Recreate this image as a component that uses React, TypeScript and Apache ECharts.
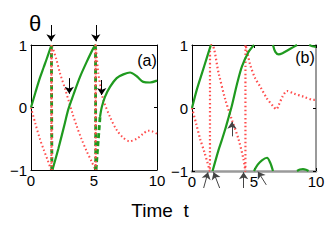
import React, { useEffect, useRef } from "react";
import * as echarts from "echarts";

// ---- data ----
const xTicks = [0, 5, 10];
const yTicks = [-1, 0, 1];

// Panel (a)
const aGreenSegments = [
  [[0, 0], [0.35, 0.24], [0.7, 0.47], [1.0, 0.64], [1.25, 0.78], [1.62, 1]],
  [[1.7, -1], [2.17, -0.66], [2.7, -0.24], [2.96, -0.03], [3.36, 0.2], [3.89, 0.49], [4.42, 0.73], [4.95, 0.95], [5.12, 1]],
  [[5.48, -0.15], [5.61, 0.0], [5.87, 0.17], [6.27, 0.33], [6.8, 0.47], [7.33, 0.53], [7.86, 0.56], [8.39, 0.5], [8.91, 0.41], [9.44, 0.4], [10, 0.43]],
];
const aGreenJumps = [
  [[1.62, 1], [1.66, -1]],
  [[5.12, 1], [5.14, -1]],
  [[5.16, -1], [5.48, -0.15]],
];
const aRed = [
  [0, 0], [0.35, -0.26], [0.7, -0.5], [1.0, -0.67], [1.3, -0.83], [1.6, -1], [1.64, 1],
  [2.0, 0.78], [2.3, 0.55], [2.7, 0.3], [3.0, 0.1], [3.3, -0.1], [3.63, -0.3], [4.0, -0.5], [4.42, -0.7], [4.8, -0.86], [5.12, -1],
  [5.14, 1], [5.34, 0.55], [5.55, 0.3], [5.74, 0.12], [6.27, -0.15], [6.8, -0.36], [7.3, -0.48], [7.8, -0.54], [8.4, -0.5], [8.9, -0.42], [9.3, -0.37], [9.6, -0.38], [10, -0.42],
];
const aArrows = [
  [[1.59, 1.32], [1.59, 1.06]],
  [[5.14, 1.32], [5.14, 1.06]],
  [[3.04, 0.47], [3.04, 0.22]],
  [[5.61, 0.44], [5.61, 0.2]],
];

// Panel (b)
const bGreenSegments = [
  [[0, 0], [0.4, 0.3], [0.8, 0.55], [1.2, 0.8], [1.52, 1]],
  [[1.66, -1], [2.15, -0.66], [2.42, -0.5], [2.69, -0.33], [2.95, -0.15], [3.22, 0.04], [3.63, 0.38], [4.03, 0.66], [4.56, 0.89], [5.0, 1]],
  [[5.0, -1], [5.3, -0.9], [5.64, -0.83], [6.05, -0.79], [6.31, -0.87], [6.53, -1]],
  [[6.53, 1], [6.72, 0.89], [6.99, 0.85], [7.3, 0.87], [7.66, 0.91], [8.2, 0.97], [8.47, 1]],
  [[8.47, -1], [8.7, -0.975], [8.95, -0.97], [9.2, -0.98], [9.4, -1]],
  [[9.45, 1], [9.7, 0.98], [10, 0.97]],
];
const bRed = [
  [0, 0], [0.35, -0.26], [0.67, -0.5], [1.0, -0.7], [1.44, -1], [1.46, 1], [1.62, 1],
  [2.15, 0.55], [2.69, 0.13], [3.22, -0.19], [3.76, -0.5], [4.16, -0.82], [4.3, -1],
  [4.32, 1], [4.5, 0.85], [4.7, 0.68], [5.1, 0.47], [5.5, 0.34], [6.05, 0.15], [6.58, 0.02], [6.8, -0.02], [7.0, 0.05], [7.3, 0.18], [7.66, 0.27], [8.2, 0.23], [9.0, 0.18], [9.8, 0.13], [10, 0.13],
];
const bArrows = [
  [[0.94, -1.27], [1.29, -1.02]],
  [[2.23, -1.27], [1.74, -1.02]],
  [[4.16, -1.27], [4.16, -1.02]],
  [[5.99, -1.22], [5.32, -1.01]],
  [[3.22, -0.45], [3.22, -0.22]],
];

const GREEN = "#1f9a1f";
const RED = "#ff4d4d";
const FONT = "Liberation Sans, Arial, sans-serif";

function fmtY(v: number) {
  return v < 0 ? "\u2212" + Math.abs(v) : String(v);
}

export default function App() {
  const ref = useRef<HTMLDivElement>(null);
  useEffect(() => {
    if (!ref.current) return;
    const chart = echarts.init(ref.current, undefined, { renderer: "svg" });

    const grids = [
      { left: 31, top: 45, width: 126, height: 125 },
      { left: 192, top: 45, width: 124, height: 126 },
    ];
    const xAxes: any[] = [];
    const yAxes: any[] = [];
    grids.forEach((g, i) => {
      const bottomColor = i === 1 ? "#9a9a9a" : "#000";
      const bottomWidth = i === 1 ? 2.5 : 1;
      xAxes.push({
        type: "value", gridIndex: i, min: 0, max: 10, interval: 5, position: "bottom",
        axisLine: { show: true, onZero: false, lineStyle: { color: bottomColor, width: bottomWidth } },
        axisTick: { show: true, inside: true, length: 3, lineStyle: { color: "#000" } },
        axisLabel: { fontSize: 15, color: "#000", fontFamily: FONT, margin: 3 },
        splitLine: { show: false },
      });
      xAxes.push({
        type: "value", gridIndex: i, min: 0, max: 10, interval: 5, position: "top",
        axisLine: { show: true, onZero: false, lineStyle: { color: "#000", width: 1 } },
        axisTick: { show: true, inside: true, length: 3, lineStyle: { color: "#000" } },
        axisLabel: { show: false },
        splitLine: { show: false },
      });
      yAxes.push({
        type: "value", gridIndex: i, min: -1, max: 1, interval: 1, position: "left",
        axisLine: { show: true, onZero: false, lineStyle: { color: "#000", width: 1 } },
        axisTick: { show: true, inside: true, length: 3, lineStyle: { color: "#000" } },
        axisLabel: { fontSize: 15, color: "#000", fontFamily: FONT, margin: 4, formatter: fmtY },
        splitLine: { show: false },
      });
      yAxes.push({
        type: "value", gridIndex: i, min: -1, max: 1, interval: 1, position: "right",
        axisLine: { show: true, onZero: false, lineStyle: { color: i === 1 ? "#9a9a9a" : "#000", width: i === 1 ? 2 : 1 } },
        axisTick: { show: true, inside: true, length: 3, lineStyle: { color: "#000" } },
        axisLabel: { show: false },
        splitLine: { show: false },
      });
    });

    const series: any[] = [];
    const line = (data: number[][], panel: number, style: any, z = 2) => ({
      type: "line", xAxisIndex: panel * 2, yAxisIndex: panel * 2, data,
      showSymbol: false, symbol: "none", smooth: 0.3, clip: true, z,
      lineStyle: style,
    });

    // panel a
    series.push(line(aRed, 0, { color: RED, width: 2, type: [1.5, 2.5], cap: "butt" }, 2));
    aGreenSegments.forEach((s) => series.push(line(s, 0, { color: GREEN, width: 2.2 }, 3)));
    aGreenJumps.forEach((s) => series.push({ ...line(s, 0, { color: GREEN, width: 2.8, type: [5, 3], cap: "butt" }, 3), smooth: false }));
    aGreenJumps.slice(0, 2).forEach((s) =>
      series.push({ ...line(s, 0, { color: RED, width: 2, type: [1.5, 2.5], cap: "butt" }, 4), smooth: false })
    );

    // panel b
    series.push(line(bRed, 1, { color: RED, width: 2.2, type: [1.5, 2.5], cap: "butt" }, 2));
    bGreenSegments.forEach((s) => series.push(line(s, 1, { color: GREEN, width: 2.2 }, 3)));

    const arrowSeries = (arrs: number[][][], panel: number, color: string) => ({
      type: "lines", coordinateSystem: "cartesian2d", xAxisIndex: panel * 2, yAxisIndex: panel * 2,
      symbol: ["none", "arrow"], symbolSize: [0, 7], clip: false, z: 5,
      lineStyle: { color, width: 1, opacity: 1 },
      data: arrs.map((c) => ({ coords: c })),
    });
    series.push(arrowSeries(aArrows, 0, "#000"));
    series.push(arrowSeries(bArrows, 1, "#444"));

    chart.setOption({
      animation: false,
      grid: grids,
      xAxis: xAxes,
      yAxis: yAxes,
      series,
      graphic: [
        { type: "text", left: 29, top: 12, style: { text: "\u03b8", fontSize: 22, fill: "#000", fontFamily: FONT } },
        { type: "text", x: 147, y: 60, style: { text: "(a)", fontSize: 16, fill: "#000", fontFamily: FONT, align: "center", verticalAlign: "middle" } },
        { type: "text", x: 305, y: 57, style: { text: "(b)", fontSize: 16, fill: "#000", fontFamily: FONT, align: "center", verticalAlign: "middle" } },
        { type: "text", x: 160, y: 210, style: { text: "Time  t", fontSize: 19, fill: "#000", fontFamily: FONT, align: "center", verticalAlign: "middle" } },
      ],
    });
    return () => chart.dispose();
  }, []);
  return <div ref={ref} style={{ width: 332, height: 249, position: "absolute", left: 0, top: 0 }} />;
}
